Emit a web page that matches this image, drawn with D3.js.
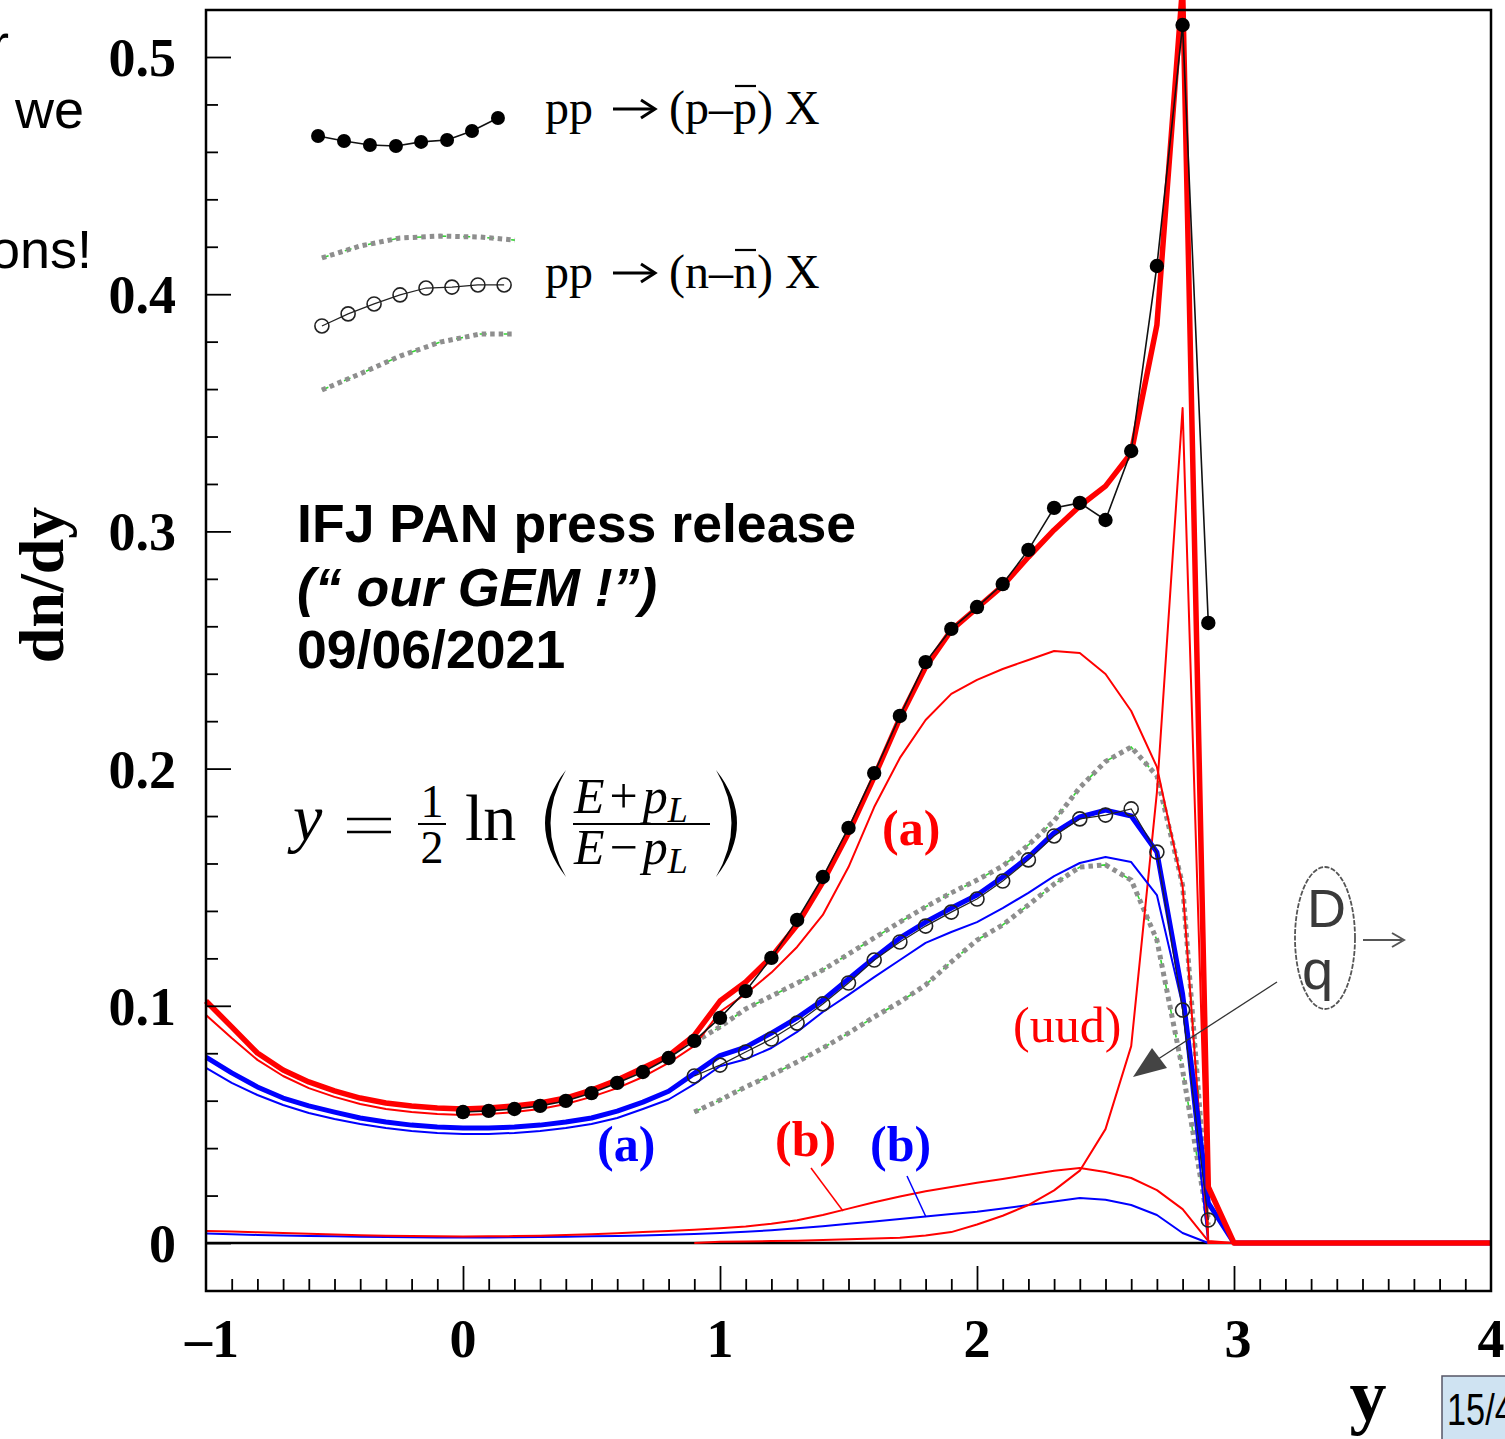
<!DOCTYPE html>
<html><head><meta charset="utf-8">
<script src="https://cdn.jsdelivr.net/npm/d3@7"></script>
<style>body{margin:0;background:#fff;overflow:hidden}svg{display:block}</style>
</head><body>
<script>
// ---------- DATA ----------
const rapidity = [-1.0,-0.9,-0.8,-0.7,-0.6,-0.5,-0.4,-0.3,-0.2,-0.1,
  0.0,0.1,0.2,0.3,0.4,0.5,0.6,0.7,0.8,0.9,
  1.0,1.1,1.2,1.3,1.4,1.5,1.6,1.7,1.8,1.9,
  2.0,2.1,2.2,2.3,2.4,2.5,2.6,2.7,2.8,2.9,3.0,4.0];

// model: pp -> (p - pbar) X
const redTotal = [0.1020,0.0911,0.0801,0.0729,0.0679,0.0641,0.0611,0.0590,0.0578,0.0569,
  0.0565,0.0569,0.0578,0.0590,0.0611,0.0645,0.0687,0.0738,0.0790,0.0875,
  0.1020,0.1100,0.1206,0.1341,0.1522,0.1729,0.1965,0.2213,0.2428,0.2584,
  0.2677,0.2770,0.2892,0.3006,0.3107,0.3191,0.3331,0.3870,0.5300,0.0236,0.0,0.0];
const redA = [0.0961,0.0864,0.0772,0.0704,0.0653,0.0616,0.0586,0.0565,0.0552,0.0544,
  0.0540,0.0544,0.0552,0.0565,0.0586,0.0616,0.0653,0.0700,0.0759,0.0831,
  0.0975,0.1050,0.1140,0.1248,0.1383,0.1585,0.1838,0.2045,0.2205,0.2315,
  0.2374,0.2420,0.2458,0.2496,0.2487,0.2399,0.2243,0.2007,0.1505,0.0,0.0,0.0];
const redB = [0.0051,0.0048,0.0045,0.0042,0.0039,0.0036,0.0033,0.0031,0.0029,0.0028,
  0.0027,0.0028,0.0029,0.0031,0.0034,0.0037,0.0041,0.0046,0.0051,0.0056,
  0.0062,0.0070,0.0081,0.0096,0.0118,0.0145,0.0172,0.0196,0.0218,0.0236,
  0.0254,0.0270,0.0288,0.0305,0.0316,0.0299,0.0274,0.0223,0.0143,0.0008,0.0,0.0];
const redUud = [null,null,null,null,null,null,null,null,null,null,
  null,null,null,null,null,null,null,null,null,0.0000,
  0.0005,0.0006,0.0008,0.0010,0.0013,0.0016,0.0019,0.0022,0.0032,0.0046,
  0.0078,0.0115,0.0160,0.0222,0.0305,0.0480,0.0830,0.1900,0.3520,0.0,0.0,0.0];

// model: pp -> (n - nbar) X
const blueTotal = [0.0784,0.0717,0.0658,0.0611,0.0578,0.0552,0.0527,0.0510,0.0497,0.0489,
  0.0485,0.0485,0.0489,0.0497,0.0510,0.0527,0.0556,0.0594,0.0640,0.0715,
  0.0790,0.0826,0.0885,0.0949,0.1024,0.1113,0.1202,0.1286,0.1353,0.1412,
  0.1467,0.1543,0.1627,0.1729,0.1796,0.1825,0.1800,0.1648,0.1050,0.0169,0.0,0.0];
const blueA = [0.0738,0.0675,0.0624,0.0582,0.0548,0.0523,0.0502,0.0485,0.0472,0.0464,
  0.0460,0.0460,0.0464,0.0472,0.0485,0.0502,0.0527,0.0565,0.0605,0.0670,
  0.0745,0.0775,0.0822,0.0890,0.0974,0.1046,0.1121,0.1193,0.1265,0.1311,
  0.1353,0.1412,0.1476,0.1547,0.1602,0.1627,0.1606,0.1467,0.1000,0.0,0.0,0.0];
const blueB = [0.0040,0.0037,0.0034,0.0032,0.0030,0.0028,0.0026,0.0025,0.0024,0.0023,
  0.0023,0.0023,0.0024,0.0025,0.0026,0.0028,0.0030,0.0032,0.0035,0.0038,
  0.0042,0.0047,0.0054,0.0062,0.0071,0.0081,0.0091,0.0101,0.0112,0.0122,
  0.0132,0.0145,0.0160,0.0175,0.0190,0.0182,0.0160,0.0118,0.0042,0.0,0.0,0.0];

// data points
const rapP = [0.0,0.1,0.2,0.3,0.4,0.5,0.6,0.7,0.8,0.9,1.0,1.1,1.2,1.3,1.4,1.5,1.6,1.7,1.8,1.9,2.0,2.1,2.2,2.3,2.4,2.5,2.6,2.7,2.8,2.9];
const dataP = [0.0552,0.0557,0.0565,0.0578,0.0599,0.0632,0.0675,0.0721,0.0780,0.0852,
  0.0949,0.1062,0.1202,0.1362,0.1543,0.1750,0.1981,0.2222,0.2449,0.2589,
  0.2681,0.2778,0.2922,0.3099,0.3120,0.3048,0.3339,0.4119,0.5135,0.2614];
const rapN = [0.9,1.0,1.1,1.2,1.3,1.4,1.5,1.6,1.7,1.8,1.9,2.0,2.1,2.2,2.3,2.4,2.5,2.6,2.7,2.8,2.9];
const dataN = [0.0704,0.0750,0.0805,0.0860,0.0927,0.1008,0.1096,0.1193,0.1269,0.1336,
  0.1395,0.1450,0.1526,0.1615,0.1716,0.1788,0.1804,0.1830,0.1648,0.0982,0.0097];
const bandNUpper = [0.0847,0.0911,0.0987,0.1041,0.1096,0.1151,0.1218,0.1286,0.1353,0.1417,
  0.1476,0.1530,0.1589,0.1678,0.1780,0.1920,0.2030,0.2091,0.1969,0.1509,0.0093];
const bandNLower = [0.0552,0.0603,0.0658,0.0708,0.0763,0.0822,0.0885,0.0953,0.1016,0.1088,
  0.1185,0.1277,0.1341,0.1425,0.1513,0.1585,0.1594,0.1530,0.1277,0.0729,0.0076];

// legend sample glyphs (in data units)
const legRap = [-0.564,-0.463,-0.362,-0.261,-0.163,-0.062,0.035,0.136];
const legP = [0.4667,0.4646,0.4629,0.4625,0.4642,0.4650,0.4688,0.4743];
const legRapN = [-0.549,-0.447,-0.346,-0.245,-0.144,-0.043,0.058,0.160];
const legN = [0.3866,0.3917,0.3959,0.3997,0.4026,0.4030,0.4039,0.4039];
const legBandRap = [-0.549,-0.401,-0.245,-0.089,0.066,0.202];
const legBandUp = [0.4153,0.4203,0.4237,0.4245,0.4241,0.4228];
const legBandLo = [0.3596,0.3664,0.3739,0.3798,0.3832,0.3832];

// ticks
const xMajor = [0,1,2,3];
const xLabels = ["–1","0","1","2","3","4"];
const xLabelVals = [-1,0,1,2,3,4];
const yMajor = [0,0.1,0.2,0.3,0.4,0.5];
const yLabels = ["0","0.1","0.2","0.3","0.4","0.5"];

// ---------- DRAW ----------
const W=1505,H=1439;
const svg = d3.select("body").append("svg").attr("width",W).attr("height",H);
const x = d3.scaleLinear().domain([-1,4]).range([206,1491]);
const y = d3.scaleLinear().domain([0,0.5]).range([1243,57]);
const serif = "'Liberation Serif','Times New Roman',serif";
const sans = "'Liberation Sans',Arial,sans-serif";

const line = d3.line().defined(d=>d[1]!=null).x(d=>x(d[0])).y(d=>y(d[1]));
const zip = (xs,ys)=>xs.map((v,i)=>[v,ys[i]]);

// zero line
svg.append("path").attr("d",line([[-1,0],[4,0]])).attr("stroke","#000").attr("stroke-width",2.5).attr("fill","none");

function band(xs,ys){
  svg.append("path").attr("d",line(zip(xs,ys))).attr("fill","none")
    .attr("stroke","#33d633").attr("stroke-width",1.6).attr("stroke-dasharray","7,17");
  svg.append("path").attr("d",line(zip(xs,ys))).attr("fill","none")
    .attr("stroke","#8e8e8e").attr("stroke-width",5).attr("stroke-dasharray","4.5,4");
}
band(rapN,bandNUpper); band(rapN,bandNLower);

function curve(ys,color,w){
  svg.append("path").attr("d",line(zip(rapidity,ys))).attr("fill","none")
    .attr("stroke",color).attr("stroke-width",w).attr("stroke-linejoin","round");
}
curve(blueB,"#0000ff",2);
curve(redB,"#ff0000",2);
curve(redUud,"#ff0000",2);
curve(blueA,"#0000ff",2);
curve(redA,"#ff0000",2);
curve(blueTotal,"#0000ff",5);
curve(redTotal,"#ff0000",5.5);

// n-nbar data
svg.append("path").attr("d",line(zip(rapN,dataN))).attr("fill","none").attr("stroke","#222").attr("stroke-width",1.2);
svg.selectAll("c.n").data(zip(rapN,dataN)).enter().append("circle")
  .attr("cx",d=>x(d[0])).attr("cy",d=>y(d[1])).attr("r",7)
  .attr("fill","none").attr("stroke","#222").attr("stroke-width",1.6);
// p-pbar data
svg.append("path").attr("d",line(zip(rapP,dataP))).attr("fill","none").attr("stroke","#111").attr("stroke-width",1.6);
svg.selectAll("c.p").data(zip(rapP,dataP)).enter().append("circle")
  .attr("cx",d=>x(d[0])).attr("cy",d=>y(d[1])).attr("r",7.2).attr("fill","#000");

// legend glyphs
band(legBandRap,legBandUp); band(legBandRap,legBandLo);
svg.append("path").attr("d",line(zip(legRap,legP))).attr("fill","none").attr("stroke","#111").attr("stroke-width",1.6);
svg.selectAll("c.lp").data(zip(legRap,legP)).enter().append("circle")
  .attr("cx",d=>x(d[0])).attr("cy",d=>y(d[1])).attr("r",7).attr("fill","#000");
svg.append("path").attr("d",line(zip(legRapN,legN))).attr("fill","none").attr("stroke","#222").attr("stroke-width",1.2);
svg.selectAll("c.ln").data(zip(legRapN,legN)).enter().append("circle")
  .attr("cx",d=>x(d[0])).attr("cy",d=>y(d[1])).attr("r",7)
  .attr("fill","none").attr("stroke","#222").attr("stroke-width",1.6);

// frame
svg.append("rect").attr("x",206).attr("y",10).attr("width",1285).attr("height",1281)
  .attr("fill","none").attr("stroke","#000").attr("stroke-width",2.5);

// axes ticks
const xMinor = d3.range(-9,40).map(i=>i/10).filter(v=>Math.abs(v-Math.round(v))>1e-6);
const gx = svg.append("g").attr("transform","translate(0,1291)");
gx.append("g").call(d3.axisTop(x).tickValues(xMajor).tickSize(25).tickFormat(""));
gx.append("g").call(d3.axisTop(x).tickValues(xMinor).tickSize(12).tickFormat(""));
gx.selectAll(".domain").remove();
gx.selectAll("line").attr("stroke","#000").attr("stroke-width",1.8);

const yMinor = d3.range(1,26).map(i=>i*0.02).filter(v=>Math.abs(v*10-Math.round(v*10))>1e-6);
const gy = svg.append("g").attr("transform","translate(206,0)");
gy.append("g").call(d3.axisRight(y).tickValues(yMajor).tickSize(25).tickFormat(""));
gy.append("g").call(d3.axisRight(y).tickValues(yMinor).tickSize(12).tickFormat(""));
gy.selectAll(".domain").remove();
gy.selectAll("line").attr("stroke","#000").attr("stroke-width",1.8);

// tick labels
svg.append("g").selectAll("text").data(xLabelVals).enter().append("text")
  .attr("x",(d,i)=>x(d)+(i===0?6:(d===3?4:0))).attr("y",1357).attr("text-anchor","middle")
  .attr("font-family",serif).attr("font-weight","bold").attr("font-size",54)
  .text((d,i)=>xLabels[i]);
svg.append("g").selectAll("text").data(yMajor).enter().append("text")
  .attr("x",176).attr("y",d=>y(d)+19).attr("text-anchor","end")
  .attr("font-family",serif).attr("font-weight","bold").attr("font-size",54)
  .text((d,i)=>yLabels[i]);

// axis titles
svg.append("text").attr("transform","translate(63,585) rotate(-90)").attr("text-anchor","middle")
  .attr("font-family",serif).attr("font-weight","bold").attr("font-size",64).text("dn/dy");
svg.append("text").attr("x",1368).attr("y",1420).attr("text-anchor","middle")
  .attr("font-family",serif).attr("font-weight","bold").attr("font-size",74).text("y");

// legend texts
function legendText(yb, letter){
  svg.append("text").attr("x",545).attr("y",yb).attr("font-family",serif).attr("font-size",48).text("pp");
  const ay = yb-15;
  svg.append("path").attr("d",`M613,${ay}L653,${ay}`).attr("stroke","#000").attr("stroke-width",3);
  svg.append("path").attr("d",`M641,${ay-9}L655,${ay}L641,${ay+9}`).attr("stroke","#000").attr("stroke-width",3).attr("fill","none");
  const t = svg.append("text").attr("x",669).attr("y",yb).attr("font-family",serif).attr("font-size",48)
    .text("("+letter+"\u2013"+letter+") X");
  const e = t.node().getExtentOfChar(3);
  svg.append("path").attr("d",`M${e.x+2},${yb-38}L${e.x+e.width-1},${yb-38}`).attr("stroke","#000").attr("stroke-width",2.2);
}
legendText(124,"p");
legendText(288,"n");

// press release text
const pr = svg.append("text").attr("font-family",sans).attr("font-weight","bold").attr("font-size",53.6);
pr.append("tspan").attr("x",297).attr("y",542).text("IFJ PAN press release");
pr.append("tspan").attr("x",297).attr("y",606).attr("font-style","italic").text("(\u201C our GEM !\u201D)");
pr.append("tspan").attr("x",297).attr("y",668).text("09/06/2021");

// formula
const f = svg.append("g").attr("font-family",serif).attr("fill","#000");
f.append("text").attr("x",293).attr("y",840).attr("font-size",66).attr("font-style","italic").text("y");
f.append("path").attr("d","M347,819L391,819M347,832L391,832").attr("stroke","#000").attr("stroke-width",2.6);
f.append("text").attr("x",432).attr("y",817).attr("text-anchor","middle").attr("font-size",46).text("1");
f.append("path").attr("d","M418,824L446,824").attr("stroke","#000").attr("stroke-width",2);
f.append("text").attr("x",432).attr("y",863).attr("text-anchor","middle").attr("font-size",46).text("2");
f.append("text").attr("x",465).attr("y",840).attr("font-size",66).text("ln");
f.append("path").attr("d","M566,770Q524,823 566,877Q535,823 566,770Z").attr("fill","#000");
f.append("path").attr("d","M716,770Q758,823 716,877Q747,823 716,770Z").attr("fill","#000");
function frac(yb,op){
  const t=f.append("text").attr("x",574).attr("y",yb).attr("font-size",50);
  t.append("tspan").attr("font-style","italic").text("E");
  t.append("tspan").attr("dx",5).text(op);
  t.append("tspan").attr("dx",5).attr("font-style","italic").text("p");
  t.append("tspan").attr("font-style","italic").attr("font-size",36).attr("dy",9).text("L");
}
frac(813,"+");
f.append("path").attr("d","M573,824L710,824").attr("stroke","#000").attr("stroke-width",2.2);
frac(864,"\u2212");

// curve labels
function lab(xp,yb,txt,color,bold,size){
  svg.append("text").attr("x",xp).attr("y",yb).attr("font-family",serif)
    .attr("font-weight",bold?"bold":"normal").attr("font-size",size).attr("fill",color).text(txt);
}
lab(882,845,"(a)","#ff0000",true,50);
lab(597,1161,"(a)","#0000ff",true,50);
lab(775,1156,"(b)","#ff0000",true,50);
lab(870,1161,"(b)","#0000ff",true,50);
lab(1013,1042,"(uud)","#ff0000",false,50);
svg.append("path").attr("d","M811,1168L843,1211").attr("stroke","#ff0000").attr("stroke-width",1.5);
svg.append("path").attr("d","M907,1176L926,1217").attr("stroke","#0000ff").attr("stroke-width",1.5);

// D q ellipse + arrows
svg.append("ellipse").attr("cx",1325).attr("cy",938).attr("rx",30).attr("ry",71)
  .attr("fill","none").attr("stroke","#555").attr("stroke-width",1.8).attr("stroke-dasharray","5,1.5");
svg.append("text").attr("x",1307).attr("y",927).attr("font-family",sans).attr("font-size",54).attr("fill","#3a3a3a").text("D");
svg.append("text").attr("x",1302).attr("y",989).attr("font-family",sans).attr("font-size",56).attr("fill","#3a3a3a").text("q");
svg.append("path").attr("d","M1363,940L1402,940").attr("stroke","#555").attr("stroke-width",2);
svg.append("path").attr("d","M1392,933L1404,940L1392,947").attr("stroke","#555").attr("stroke-width",2).attr("fill","none");
svg.append("path").attr("d","M1277,982L1152,1063").attr("stroke","#333").attr("stroke-width",1.3);
svg.append("path").attr("d","M1133,1077L1152,1048L1167,1068Z").attr("fill","#444");

// slide fragments (cut by the slide edge, as in the original)
svg.append("text").attr("x",15).attr("y",128).attr("font-family",sans).attr("font-size",54).text("we");
svg.append("text").attr("x",92).attr("y",268).attr("text-anchor","end").attr("font-family",sans).attr("font-size",54).text("ons!");
svg.append("text").attr("x",9).attr("y",62).attr("text-anchor","end").attr("font-family",sans).attr("font-size",54).text("r");
svg.append("rect").attr("x",1442).attr("y",1376).attr("width",90).attr("height",80)
  .attr("fill","#cfe3f2").attr("stroke","#556").attr("stroke-width",1.5);
svg.append("text").attr("transform","translate(1447,1425) scale(0.78,1)").attr("font-family",sans)
  .attr("font-size",44).attr("fill","#000").text("15/4");
</script>
</body></html>
